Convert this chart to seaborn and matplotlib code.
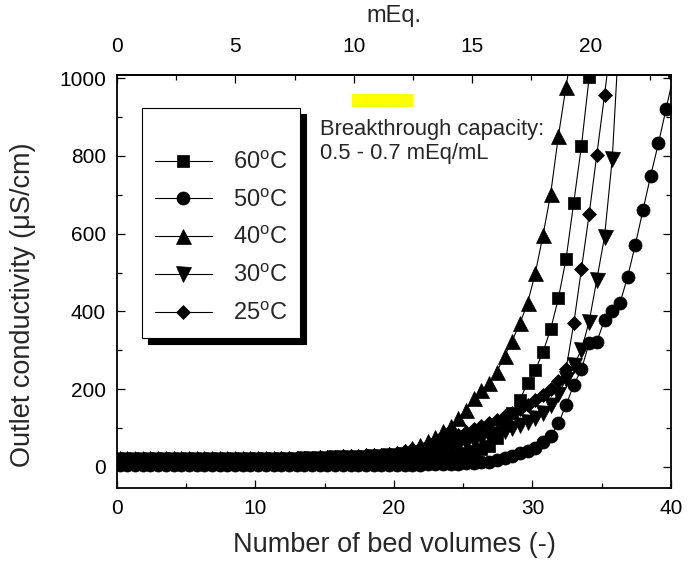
import matplotlib
matplotlib.use("Agg")
import matplotlib.pyplot as plt
import seaborn as sns
from matplotlib.patches import Rectangle
from matplotlib.ticker import MultipleLocator, FixedLocator

# ---------------- data ----------------
bed_volumes = [0.2, 0.76, 1.31, 1.87, 2.42, 2.98, 3.53, 4.09, 4.64, 5.2,
               5.76, 6.31, 6.87, 7.42, 7.98, 8.53, 9.09, 9.64, 10.2, 10.76,
               11.31, 11.87, 12.42, 12.98, 13.53, 14.09, 14.64, 15.2, 15.76, 16.31,
               16.87, 17.42, 17.98, 18.53, 19.09, 19.64, 20.2, 20.76, 21.31, 21.87,
               22.42, 22.98, 23.53, 24.09, 24.64, 25.2, 25.76, 26.31, 26.87, 27.42,
               27.98, 28.53, 29.09, 29.64, 30.2, 30.76, 31.31, 31.87, 32.42, 32.98,
               33.53, 34.09, 34.64, 35.2, 35.76, 36.31, 36.87, 37.42, 37.98, 38.53,
               39.09, 39.64, 40.2]

cond_60C = [12, 12, 12, 11, 12, 12, 12, 12, 11, 12, 12, 12, 12, 12, 11, 12, 12, 12,
            12, 12, 12, 12, 12, 12, 13, 13, 13, 13, 13, 13, 14, 14, 14, 14, 15, 15,
            16, 17, 19, 21, 23, 25, 28, 30, 33, 36, 40, 45, 55, 75, 108, 140, 172,
            217, 249, 296, 354, 434, 534, 680, 825, 1002, 1150]
cond_50C = [6, 6, 5, 6, 6, 6, 5, 6, 6, 6, 6, 5, 6, 6, 6, 6, 6, 5,
            6, 6, 6, 6, 6, 6, 6, 6, 6, 6, 6, 6, 6, 6, 6, 6, 6, 6,
            6, 6, 6, 6, 7, 7, 7, 8, 8, 9, 10, 12, 14, 17, 22, 28, 35,
            42, 50, 64, 80, 112, 159, 211, 251, 318, 322, 378, 400, 421, 489,
            571, 661, 749, 832, 920, 1010]
cond_40C = [22, 22, 23, 22, 22, 22, 23, 22, 22, 22, 22, 23, 22, 22, 22, 22, 23, 22,
            22, 22, 23, 23, 23, 23, 24, 24, 25, 25, 26, 27, 27, 28, 29, 30, 31, 33,
            36, 41, 48, 56, 66, 78, 92, 106, 125, 147, 177, 198, 215, 245, 285,
            325, 369, 421, 498, 596, 702, 851, 978, 1100]
cond_30C = [18, 18, 17, 18, 18, 17, 18, 18, 18, 17, 18, 18, 18, 17, 18, 18, 18, 18,
            18, 18, 18, 19, 19, 19, 20, 20, 21, 21, 22, 22, 23, 24, 24, 25, 26, 27,
            28, 30, 32, 35, 38, 42, 46, 51, 56, 62, 68, 74, 80, 86, 93, 100, 108,
            116, 126, 140, 160, 188, 225, 262, 301, 374, 481, 592, 793, 1150]
cond_25C = [20, 20, 20, 21, 20, 20, 20, 20, 21, 20, 20, 20, 20, 21, 20, 20, 20, 20,
            21, 21, 21, 22, 22, 23, 23, 24, 25, 26, 26, 27, 28, 29, 30, 31, 32, 34,
            36, 40, 45, 50, 56, 62, 68, 74, 82, 90, 98, 106, 114, 122, 130, 140,
            150, 160, 172, 185, 200, 220, 251, 369, 508, 650, 802, 956, 1120]

series_labels = ["60$^\\mathregular{o}$C", "50$^\\mathregular{o}$C", "40$^\\mathregular{o}$C",
                 "30$^\\mathregular{o}$C", "25$^\\mathregular{o}$C"]
series_values = [cond_60C, cond_50C, cond_40C, cond_30C, cond_25C]
series_markers = ["s", "o", "^", "v", "D"]
series_msizes = [8.6, 9.4, 10.8, 10.8, 7.6]

meq_per_bv = 0.585
meq_major_ticks = [0, 5, 10, 15, 20]
meq_minor_ticks = [2.5, 7.5, 12.5, 17.5, 22.5]
capacity_bar_bv = [17.0, 21.4]
capacity_bar_cond = [925, 960]
note_lines = ["Breakthrough capacity:", "0.5 - 0.7 mEq/mL"]

# ---------------- style ----------------
sns.set_style("ticks")
plt.rcParams["font.family"] = ["Liberation Sans", "DejaVu Sans"]
plt.rcParams["mathtext.fontset"] = "custom"
plt.rcParams["mathtext.rm"] = "Liberation Sans"
plt.rcParams["mathtext.it"] = "Liberation Sans:italic"

fig = plt.figure(figsize=(6.88, 5.72), dpi=100)
ax = fig.add_axes([0.170, 0.1469, 0.8053, 0.722])

handles = []
for vals, lab, mk, ms in zip(series_values, series_labels, series_markers, series_msizes):
    sns.lineplot(x=bed_volumes[:len(vals)], y=vals, ax=ax, color="black",
                 linewidth=0.8, marker=mk, markersize=ms,
                 markerfacecolor="black", markeredgecolor="black",
                 markeredgewidth=0.5, estimator=None, sort=False, legend=False)
    line = ax.lines[-1]
    line.set_label(lab)
    handles.append(line)

ax.set_xlim(0, 40)
ax.set_ylim(-54, 1008)
ax.xaxis.set_major_locator(MultipleLocator(10))
ax.xaxis.set_minor_locator(MultipleLocator(5))
ax.yaxis.set_major_locator(MultipleLocator(200))
ax.yaxis.set_minor_locator(MultipleLocator(100))
ax.tick_params(which="both", direction="in", top=False, right=True,
               colors="black", width=0.9)
ax.tick_params(which="major", length=6, labelsize=15, pad=8)
ax.tick_params(which="minor", length=3.5)
for sp in ax.spines.values():
    sp.set_linewidth(1.3)
    sp.set_color("black")

ax.set_xlabel("Number of bed volumes (-)", fontsize=19.5, labelpad=10)
ax.set_ylabel("Outlet conductivity (μS/cm)", fontsize=19.5)
ax.yaxis.set_label_coords(-0.147, 0.443)

secax = ax.secondary_xaxis("top", functions=(lambda x: x * meq_per_bv,
                                             lambda m: m / meq_per_bv))
secax.xaxis.set_major_locator(FixedLocator(meq_major_ticks))
secax.xaxis.set_minor_locator(FixedLocator(meq_minor_ticks))
secax.tick_params(which="both", direction="in", colors="black", width=0.9)
secax.tick_params(which="major", length=6, labelsize=15, pad=13.5)
secax.tick_params(which="minor", length=3.5)
secax.spines["top"].set_linewidth(1.3)
secax.set_xlabel("mEq.", fontsize=17, labelpad=11)

ax.add_patch(Rectangle((capacity_bar_bv[0], capacity_bar_cond[0]),
                       capacity_bar_bv[1] - capacity_bar_bv[0],
                       capacity_bar_cond[1] - capacity_bar_cond[0],
                       facecolor="#FFFF00", edgecolor="none", zorder=3))
ax.text(14.66, 869, note_lines[0], fontsize=15.8, va="center", ha="left")
ax.text(14.66, 807, note_lines[1], fontsize=15.8, va="center", ha="left")

leg = ax.legend(handles=handles, loc="upper left", bbox_to_anchor=(0.045, 0.92),
                frameon=True, fancybox=False,
                shadow={"ox": 4.3, "oy": -4.3, "color": "black", "alpha": 1},
                edgecolor="black", framealpha=1, fontsize=17,
                handlelength=2.4, handletextpad=0.9, labelspacing=0.66,
                borderpad=0.55, borderaxespad=0, title=" ", title_fontsize=12.5)
leg.get_frame().set_linewidth(0.8)

fig.savefig("out.png", dpi=100)
